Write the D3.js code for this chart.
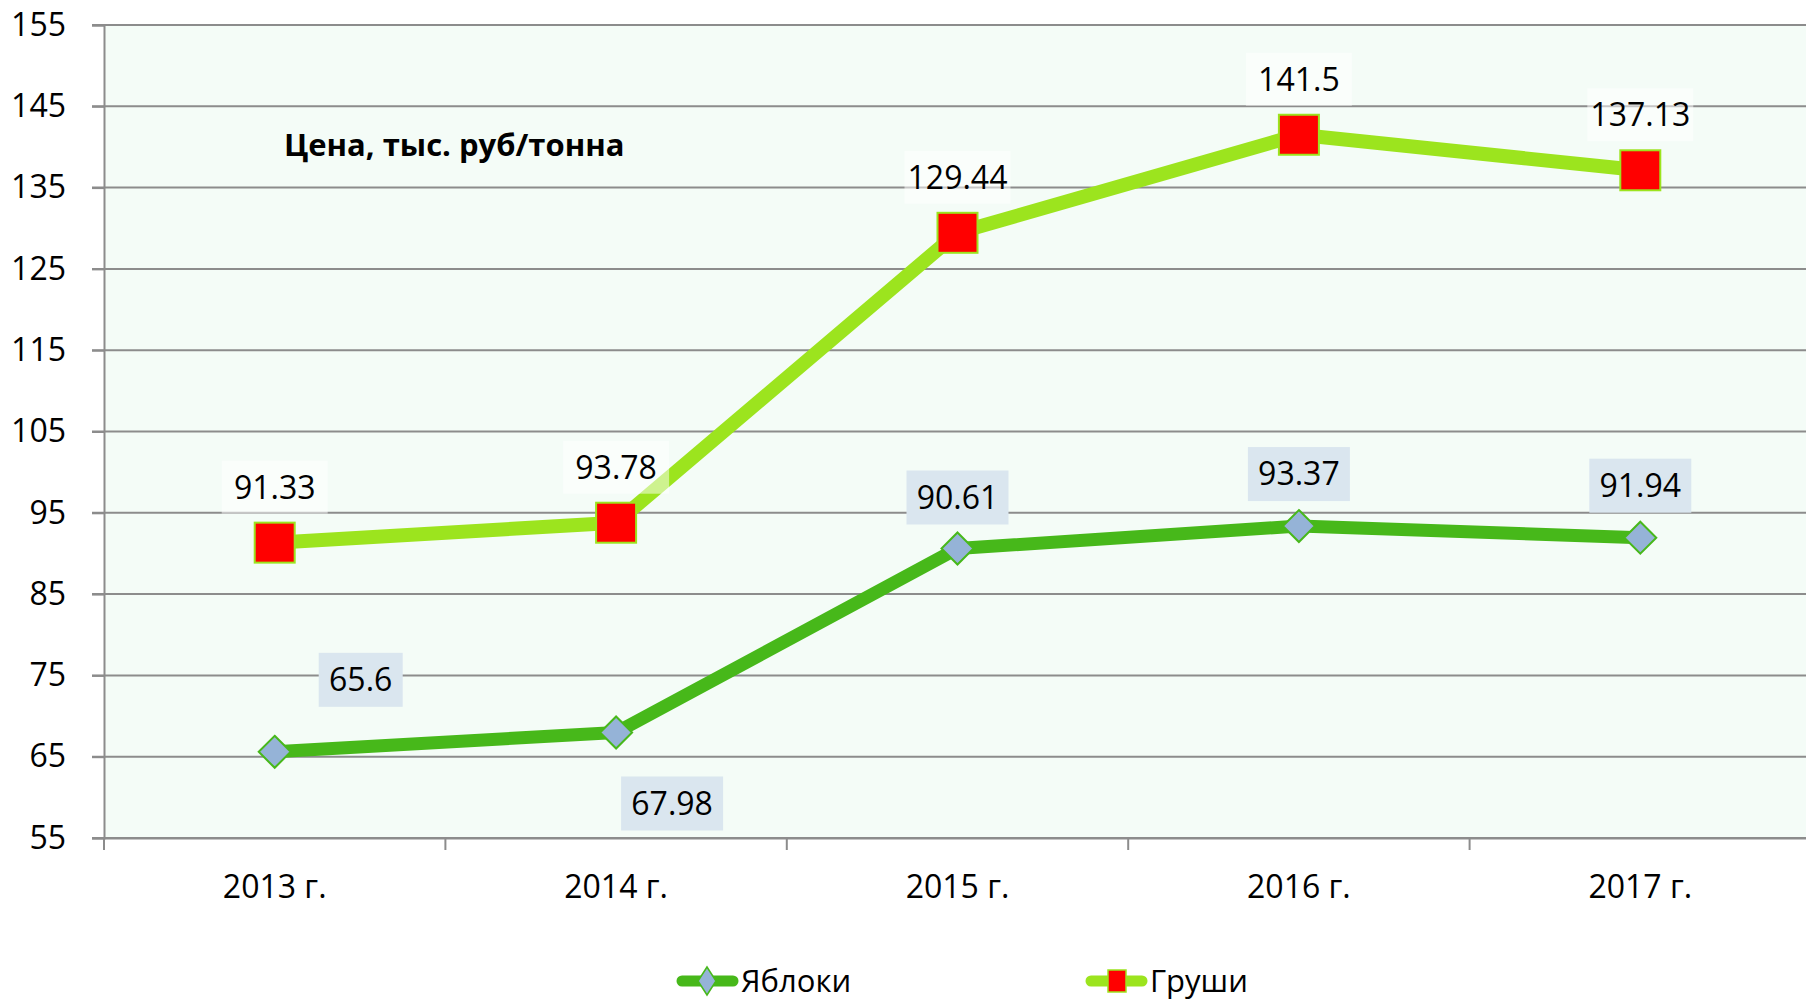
<!DOCTYPE html>
<html>
<head>
<meta charset="utf-8">
<script src="https://cdn.jsdelivr.net/npm/d3@7"></script>
<style>
  body { margin: 0; background: #fff; overflow: hidden; }
  text { font-family: "Open Sans", sans-serif; }
</style>
</head>
<body>
<div id="graphic"></div>
<script>
// data
var years = ["2013 г.", "2014 г.", "2015 г.", "2016 г.", "2017 г."];
var apples = [65.6, 67.98, 90.61, 93.37, 91.94];
var pears = [91.33, 93.78, 129.44, 141.5, 137.13];
var yTicks = [55, 65, 75, 85, 95, 105, 115, 125, 135, 145, 155];
// label offsets relative to point (dx, dy) for apples
var appleLabelPos = [[86, -72], [56, 71], [0, -51], [0, -52], [0, -52]];

var W = 1806, H = 1003;
var FS = 32;
var svg = d3.select("#graphic").append("svg")
    .attr("width", W)
    .attr("height", H);

var x = d3.scaleBand().domain(years).range([104, 1811]).padding(0);
var y = d3.scaleLinear().domain([55, 155]).range([838, 25]);

// plot background
svg.append("rect")
    .attr("x", 104).attr("y", 25)
    .attr("width", 1811 - 104).attr("height", 838 - 25)
    .attr("fill", "#F4FCF7");

// gridlines
svg.append("g").selectAll("line").data(yTicks).enter().append("line")
    .attr("x1", 92).attr("x2", W)
    .attr("y1", d => y(d)).attr("y2", d => y(d))
    .attr("stroke", "#8c8c8c").attr("stroke-width", 2);

// y axis
var yAxis = svg.append("g")
    .attr("transform", "translate(104,0)")
    .call(d3.axisLeft(y).tickValues(yTicks).tickSize(12).tickPadding(26));
yAxis.select(".domain").attr("stroke", "#8c8c8c").attr("stroke-width", 2);
yAxis.selectAll(".tick line").attr("stroke", "#8c8c8c").attr("stroke-width", 2);
yAxis.selectAll("text")
    .attr("font-size", FS).attr("fill", "#000")
    .style("font-family", "'Open Sans', sans-serif");

// x axis
var xAxis = svg.append("g")
    .attr("transform", "translate(0,838)")
    .call(d3.axisBottom(x).tickSize(0).tickPadding(37));
xAxis.select(".domain").attr("stroke", "#8c8c8c").attr("stroke-width", 2);
xAxis.selectAll("text")
    .attr("font-size", FS).attr("fill", "#000")
    .style("font-family", "'Open Sans', sans-serif");
// category boundary ticks
svg.append("g").selectAll("line").data(years).enter().append("line")
    .attr("x1", d => x(d)).attr("x2", d => x(d))
    .attr("y1", 838).attr("y2", 850)
    .attr("stroke", "#8c8c8c").attr("stroke-width", 2);

var cx = d => x(d) + x.bandwidth() / 2;

// title
svg.append("text")
    .attr("x", 284).attr("y", 156)
    .attr("font-size", 31).attr("font-weight", "bold")
    .text("Цена, тыс. руб/тонна");

var line = d3.line().x((d, i) => cx(years[i])).y(d => y(d));

// apples line
svg.append("path").datum(apples)
    .attr("d", line)
    .attr("fill", "none")
    .attr("stroke", "#47B81A").attr("stroke-width", 13)
    .attr("stroke-linejoin", "round");

// pears line
svg.append("path").datum(pears)
    .attr("d", line)
    .attr("fill", "none")
    .attr("stroke", "#9CE41E").attr("stroke-width", 14)
    .attr("stroke-linejoin", "round");

// apples markers
svg.append("g").selectAll("path").data(apples).enter().append("path")
    .attr("transform", (d, i) => "translate(" + cx(years[i]) + "," + y(d) + ")")
    .attr("d", "M0,-16L16,0L0,16L-16,0Z")
    .attr("fill", "#95B3D7").attr("stroke", "#47B81A").attr("stroke-width", 2);

// pears markers
svg.append("g").selectAll("rect").data(pears).enter().append("rect")
    .attr("x", (d, i) => cx(years[i]) - 20)
    .attr("y", d => y(d) - 20)
    .attr("width", 40).attr("height", 40)
    .attr("fill", "#FF0000").attr("stroke", "#9CE41E").attr("stroke-width", 2);

// pears labels
var pl = svg.append("g").selectAll("g").data(pears).enter().append("g")
    .attr("transform", (d, i) => "translate(" + cx(years[i]) + "," + (y(d) - 55) + ")");
pl.append("rect")
    .attr("x", -53).attr("y", -27).attr("width", 106).attr("height", 53)
    .attr("fill", "#ffffff").attr("fill-opacity", 0.5);
pl.append("text")
    .attr("text-anchor", "middle").attr("dy", "0.35em")
    .attr("font-size", FS)
    .text(d => d);

// apples labels
var al = svg.append("g").selectAll("g").data(apples).enter().append("g")
    .attr("transform", (d, i) => "translate(" + (cx(years[i]) + appleLabelPos[i][0]) + "," + (y(d) + appleLabelPos[i][1]) + ")");
al.append("rect")
    .attr("x", (d) => String(d).length > 4 ? -51 : -42)
    .attr("y", -27)
    .attr("width", (d) => String(d).length > 4 ? 102 : 84)
    .attr("height", 54)
    .attr("fill", "#DAE6EF");
al.append("text")
    .attr("text-anchor", "middle").attr("dy", "0.35em")
    .attr("font-size", FS)
    .text(d => d);

// legend
var legend = [
  {name: "Яблоки", color: "#47B81A", x: 677, marker: "diamond"},
  {name: "Груши", color: "#9CE41E", x: 1086, marker: "square"}
];
var lg = svg.append("g").selectAll("g").data(legend).enter().append("g")
    .attr("transform", d => "translate(" + d.x + ",981)");
lg.append("line")
    .attr("x1", 5).attr("x2", 56).attr("y1", 0).attr("y2", 0)
    .attr("stroke", d => d.color).attr("stroke-width", 11).attr("stroke-linecap", "round");
lg.filter(d => d.marker === "diamond").append("path")
    .attr("d", "M30,-14L39,0L30,14L21,0Z")
    .attr("fill", "#95B3D7").attr("stroke", "#47B81A").attr("stroke-width", 1.5);
lg.filter(d => d.marker === "square").append("rect")
    .attr("x", 22).attr("y", -11).attr("width", 18).attr("height", 22)
    .attr("fill", "#FF0000").attr("stroke", "#9CE41E").attr("stroke-width", 1.5);
lg.append("text")
    .attr("x", 64).attr("y", 0).attr("dy", "0.35em")
    .attr("font-size", 31)
    .text(d => d.name);
</script>
</body>
</html>
